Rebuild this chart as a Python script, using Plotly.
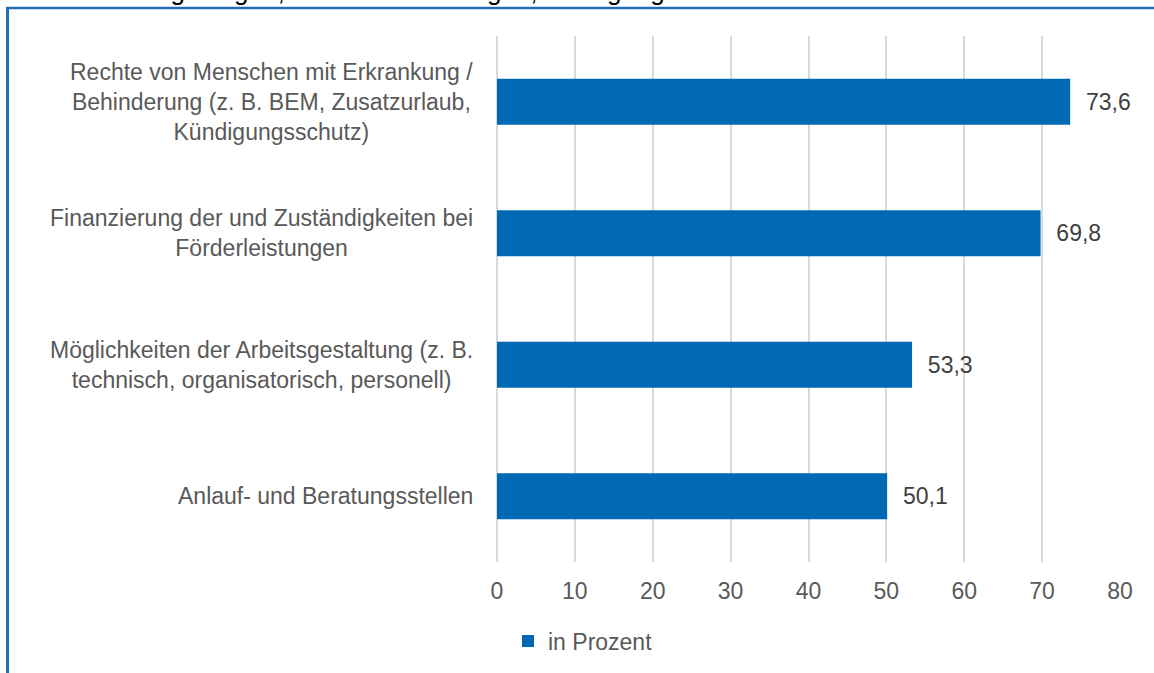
import plotly.graph_objects as go

categories = [
    "Anlauf- und Beratungsstellen",
    "Möglichkeiten der Arbeitsgestaltung (z. B.<br>technisch, organisatorisch, personell)",
    "Finanzierung der und Zuständigkeiten bei<br>Förderleistungen",
    "Rechte von Menschen mit Erkrankung /<br>Behinderung (z. B. BEM, Zusatzurlaub,<br>Kündigungsschutz)",
]
values = [50.1, 53.3, 69.8, 73.6]
series_name = "in Prozent"
x_ticks = [0, 10, 20, 30, 40, 50, 60, 70, 80]
title_text = "Wissen zu Regelungen, Mehrfachnennungen, Befragung"

BLUE = "#0069B4"
FONT = "Liberation Sans, Arial"
W, H = 1154, 673
L, T = 497, 36
pw, ph = 623, 527
R, B = W - L - pw, H - T - ph

def fx(px):
    return (px - L) / pw

def fy(py):
    return 1 - (py - T) / ph

fig = go.Figure()
fig.add_trace(go.Bar(
    y=list(range(len(categories))),
    x=values,
    orientation="h",
    name=series_name,
    marker=dict(color=BLUE, line=dict(width=0)),
    texttemplate="\u00a0\u00a0%{x:.1f}",
    textposition="outside",
    textfont=dict(family=FONT, size=23, color="#404040"),
    cliponaxis=False,
    showlegend=True,
))

annotations = []
for i, c in enumerate(categories):
    annotations.append(dict(
        x=fx(475), xref="paper", y=i, yref="y",
        text=c, showarrow=False, xanchor="right", yanchor="middle",
        align="center",
        font=dict(family=FONT, size=23, color="#595959"),
    ))
# title, cut off at the top edge as in the reference
annotations.append(dict(
    x=fx(8), xref="paper", y=fy(8), yref="paper",
    text=title_text,
    showarrow=False, xanchor="left", yanchor="bottom",
    font=dict(family=FONT, size=26, color="#000000"),
))

shapes = [
    dict(type="line", xref="paper", yref="paper",
         x0=fx(7.5), x1=fx(7.5), y0=fy(7), y1=fy(700),
         line=dict(color="#1F6FB5", width=3)),
    dict(type="line", xref="paper", yref="paper",
         x0=fx(6), x1=fx(1200), y0=fy(8), y1=fy(8),
         line=dict(color="#1F6FB5", width=2.5)),
]

fig.update_layout(
    width=W, height=H,
    margin=dict(l=L, r=R, t=T, b=B, pad=0),
    paper_bgcolor="white", plot_bgcolor="white",
    separators=",.",
    bargap=0.65,
    font=dict(family=FONT, size=23, color="#595959"),
    xaxis=dict(
        range=[0, 80], tickvals=x_ticks, showgrid=True,
        gridcolor="#D9D9D9", gridwidth=1.5, zeroline=True,
        zerolinecolor="#D9D9D9", zerolinewidth=1.5,
        showline=False, ticks="", ticklabelstandoff=13,
        tickfont=dict(family=FONT, size=23, color="#595959"),
    ),
    yaxis=dict(
        range=[-0.5, len(categories) - 0.5], showticklabels=False,
        showgrid=False, zeroline=False, showline=False,
    ),
    legend=dict(
        orientation="h", x=fx(508), xanchor="left",
        y=fy(641), yanchor="middle",
        font=dict(family=FONT, size=23, color="#595959"),
        itemwidth=30, bgcolor="rgba(0,0,0,0)",
    ),
    annotations=annotations,
    shapes=shapes,
)

fig.write_html(
    "out.html",
    config={"displayModeBar": False},
    post_script="document.body.style.margin='0';document.body.style.overflow='hidden';",
)
